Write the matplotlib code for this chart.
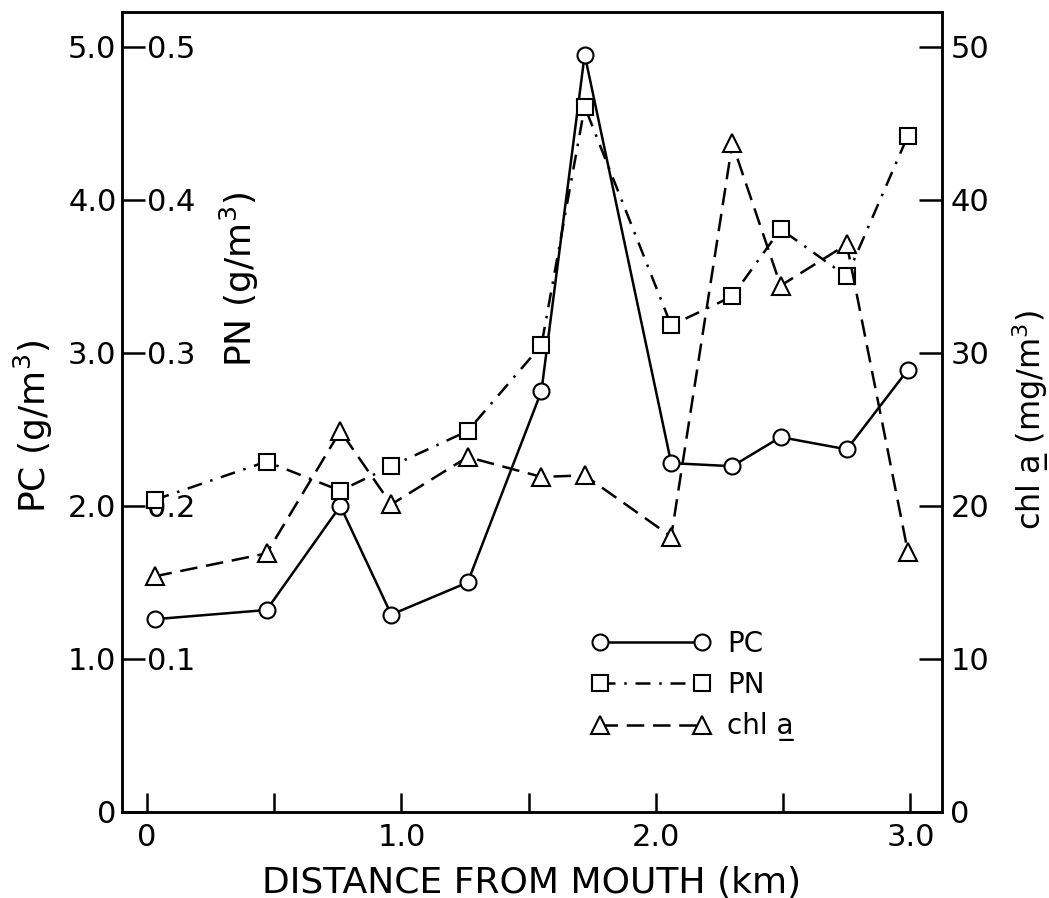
import matplotlib
matplotlib.use("Agg")
import matplotlib.pyplot as plt

# distance from mouth (km)
distance = [0.03, 0.47, 0.76, 0.96, 1.26, 1.55, 1.72, 2.06, 2.30, 2.49, 2.75, 2.99]
# particulate carbon (g/m3)
pc = [1.26, 1.32, 2.00, 1.29, 1.50, 2.75, 4.95, 2.28, 2.26, 2.45, 2.37, 2.89]
# particulate nitrogen (g/m3)
pn = [0.204, 0.229, 0.210, 0.226, 0.249, 0.305, 0.461, 0.318, 0.337, 0.381, 0.350, 0.442]
# chlorophyll a (mg/m3)
chl = [15.4, 16.9, 24.9, 20.1, 23.2, 21.9, 22.0, 18.0, 43.7, 34.4, 37.1, 17.0]

x_ticks = [0, 0.5, 1.0, 1.5, 2.0, 2.5, 3.0]
x_ticklabels = ["0", "", "1.0", "", "2.0", "", "3.0"]
pc_ticks = [0, 1, 2, 3, 4, 5]
pc_ticklabels = ["0", "1.0", "2.0", "3.0", "4.0", "5.0"]
pn_ticks = [0.1, 0.2, 0.3, 0.4, 0.5]
pn_ticklabels = ["0.1", "0.2", "0.3", "0.4", "0.5"]
chl_ticks = [0, 10, 20, 30, 40, 50]

plt.rcParams.update({
    "font.family": "DejaVu Sans",
    "font.size": 22,
    "mathtext.default": "regular",
    "axes.linewidth": 1.8,
})

fig = plt.figure(figsize=(10.49, 8.98), dpi=100)
ax = fig.add_axes([0.1163, 0.0958, 0.7817, 0.8909])
ax_pn = ax.twinx()
ax_chl = ax.twinx()

LW = 1.8
mk = dict(markerfacecolor="white", markeredgecolor="black", markeredgewidth=1.5)

l_pc, = ax.plot(distance, pc, color="black", lw=LW, ls="-", marker="o",
                markersize=11.5, **mk)
l_pn, = ax_pn.plot(distance, pn, color="black", lw=LW, ls=(0, (6, 3.5, 1, 3.5)),
                   marker="s", markersize=11, **mk)
l_chl, = ax_chl.plot(distance, chl, color="black", lw=LW, ls=(0, (7, 3.5)),
                     marker="^", markersize=12.5, **mk)

ax.set_xlim(-0.098, 3.124)
ax.set_ylim(0, 5.229)
ax_pn.set_ylim(0, 0.5229)
ax_chl.set_ylim(0, 52.29)

# x axis
ax.set_xticks(x_ticks)
ax.set_xticklabels(x_ticklabels)
ax.tick_params(axis="x", direction="in", length=14, width=1.8, pad=8, top=False)
ax.set_xlabel("DISTANCE FROM MOUTH (km)", fontsize=26, labelpad=10)

# PC axis (left, labels outside)
ax.set_yticks(pc_ticks)
ax.set_yticklabels(pc_ticklabels)
ax.tick_params(axis="y", direction="in", length=16.5, width=1.8, pad=4, right=False)
ax.set_ylabel("PC (g/m$^3$)", fontsize=26)
ax.yaxis.set_label_coords(-0.082, 0.4825)

# PN axis (left, labels inside the frame)
ax_pn.yaxis.tick_left()
ax_pn.yaxis.set_label_position("left")
ax_pn.set_yticks(pn_ticks)
ax_pn.set_yticklabels(pn_ticklabels)
ax_pn.tick_params(axis="y", direction="in", length=0, pad=-53)
ax_pn.set_ylabel("PN (g/m$^3$)", fontsize=26)
ax_pn.yaxis.set_label_coords(0.17, 0.665)
for s in ax_pn.spines.values():
    s.set_visible(False)

# chl a axis (right)
ax_chl.set_yticks(chl_ticks)
ax_chl.tick_params(axis="y", direction="in", length=16.5, width=1.8, pad=6)
ax_chl.set_ylabel("chl a\u0332 (mg/m$^3$)", fontsize=23)
ax_chl.yaxis.set_label_coords(1.083, 0.49)

handles = [l_pc, l_pn, l_chl]
labels = ["PC", "PN", "chl a\u0332"]
ax_chl.legend(handles, labels, loc="upper left", bbox_to_anchor=(0.556, 0.245),
              frameon=False, numpoints=2, handlelength=4.27, handletextpad=0.6,
              labelspacing=0.475, borderpad=0, fontsize=20)

fig.savefig("out.png", dpi=100)
